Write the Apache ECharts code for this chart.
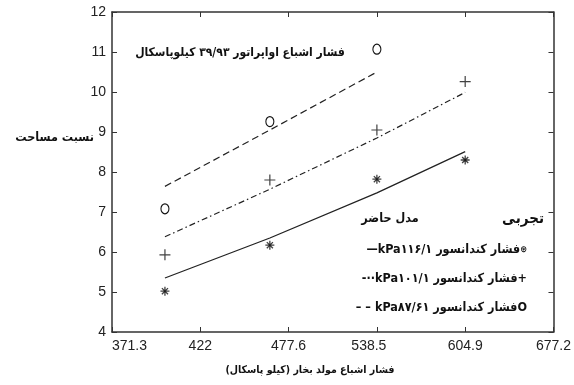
<!DOCTYPE html>
<html>
<head>
<meta charset="utf-8">
<script src="https://cdn.jsdelivr.net/npm/echarts@6/dist/echarts.min.js"></script>
<style>html,body{margin:0;padding:0;background:#fff;}#c{width:574px;height:385px;}</style>
</head>
<body>
<div id="c"></div>
<script>
// Tick labels of the (non-linear) pressure axis, equally spaced on the chart
const xTickLabels = ['371.3', '422', '477.6', '538.5', '604.9', '677.2'];
const xTickValues = [371.3, 422, 477.6, 538.5, 604.9, 677.2];
// generator saturation pressures (kPa) of the measurements
const pressures = [401.7, 465.8, 538.5, 604.9];
// experimental points
const exp116 = [5.02, 6.17, 7.82, 8.30];
const exp101 = [5.93, 7.80, 9.05, 10.26];
const exp8761 = [7.08, 9.26, 11.07];
// present model
const model116 = [5.35, 6.35, 7.48, 8.51];
const model101 = [6.38, 7.57, 8.85, 9.99];
const model8761 = [7.64, 9.05, 10.50];

function toAxis(p) {
  for (let i = 0; i < xTickValues.length - 1; i++) {
    if (p <= xTickValues[i + 1]) return i + (p - xTickValues[i]) / (xTickValues[i + 1] - xTickValues[i]);
  }
  return xTickValues.length - 1;
}
function pts(vals) { return vals.map((v, i) => [toAxis(pressures[i]), v]); }

const AX = '#333', INK = '#111';
const FA = '"DejaVu Sans Condensed", "DejaVu Sans", sans-serif';
const PLUS = 'path://M5,0L5,10M0,5L10,5';
const STAR = 'path://M5,0L5,10M0,5L10,5M1.6,1.6L8.4,8.4M8.4,1.6L1.6,8.4M4,4L6,4L6,6L4,6Z';

function axisBase(extra) {
  return Object.assign({
    axisLine: { show: true, onZero: false, lineStyle: { color: AX, width: 1.5 } },
    axisTick: { show: true, inside: true, length: 5, lineStyle: { color: AX, width: 1 } },
    splitLine: { show: false }
  }, extra);
}
function legendRow(sample, num, marker, markerFont) {
  const f = 'bold 12.5px ' + FA;
  return {
    text: '{l|' + sample + '}{k|kPa}{n|' + num + ' }{t|فشار کندانسور}{m|' + marker + '}',
    align: 'right', verticalAlign: 'middle', fill: INK,
    rich: { l: { font: f, fill: INK }, k: { font: f, fill: INK }, n: { font: f, fill: INK },
      t: { font: f, fill: INK }, m: { font: markerFont || f, fill: INK } }
  };
}

const chart = echarts.init(document.getElementById('c'), null, { renderer: 'canvas' });
chart.setOption({
  animation: false,
  backgroundColor: '#fff',
  grid: { left: 112, top: 12, right: 20, bottom: 53 },
  xAxis: [
    axisBase({ type: 'value', min: 0, max: 5, interval: 1, position: 'bottom',
      axisLabel: { color: '#222', fontFamily: 'Liberation Sans', fontSize: 14, margin: 7,
        showMinLabel: true, showMaxLabel: true, alignMinLabel: 'left',
        formatter: v => { const s = xTickLabels[Math.round(v)]; return Math.round(v) === 3 ? '{s|' + s + '}' : s; },
        rich: { s: { color: '#222', fontFamily: 'Liberation Sans', fontSize: 14, padding: [0, 16, 0, 0] } } } }),
    axisBase({ type: 'value', min: 0, max: 5, interval: 1, position: 'top', axisLabel: { show: false } })
  ],
  yAxis: [
    axisBase({ type: 'value', min: 4, max: 12, interval: 1, position: 'left',
      axisLabel: { color: '#222', fontFamily: 'Liberation Sans', fontSize: 14, margin: 6 } }),
    axisBase({ type: 'value', min: 4, max: 12, interval: 1, position: 'right', axisLabel: { show: false } })
  ],
  series: [
    { type: 'line', data: pts(model116), symbol: 'none', lineStyle: { color: '#222', width: 1.3, type: 'solid' } },
    { type: 'line', data: pts(model101), symbol: 'none', lineStyle: { color: '#222', width: 1.2, type: [6, 3, 1.5, 3] } },
    { type: 'line', data: pts(model8761), symbol: 'none', lineStyle: { color: '#222', width: 1.2, type: [7, 4] } },
    { type: 'scatter', data: pts(exp116), symbol: STAR, symbolSize: 9,
      itemStyle: { color: INK, borderColor: INK, borderWidth: 1.3 } },
    { type: 'scatter', data: pts(exp101), symbol: PLUS, symbolSize: 11,
      itemStyle: { color: 'transparent', borderColor: INK, borderWidth: 1.2 } },
    { type: 'scatter', data: pts(exp8761), symbol: 'circle', symbolSize: [8, 10],
      itemStyle: { color: '#fff', borderColor: INK, borderWidth: 1.2, opacity: 1 } }
  ],
  graphic: [
    { type: 'text', x: 240, y: 53, style: { text: 'فشار اشباع اواپراتور ۳۹/۹۳ کیلوپاسکال',
      font: 'bold 12px ' + FA, fill: INK, align: 'center', verticalAlign: 'middle' } },
    { type: 'text', x: 94, y: 138, style: { text: 'نسبت مساحت',
      font: 'bold 12.5px ' + FA, fill: INK, align: 'right', verticalAlign: 'middle' } },
    { type: 'text', x: 310, y: 370, style: { text: 'فشار اشباع مولد بخار (کیلو پاسکال)\u200F',
      font: 'bold 10.5px ' + FA, fill: INK, align: 'center', verticalAlign: 'middle' } },
    { type: 'text', x: 523, y: 219, style: { text: 'تجربی',
      font: 'bold 15px ' + FA, fill: INK, align: 'center', verticalAlign: 'middle' } },
    { type: 'text', x: 390, y: 219, style: { text: 'مدل حاضر',
      font: 'bold 12.5px ' + FA, fill: INK, align: 'center', verticalAlign: 'middle' } },
    { type: 'text', x: 527, y: 250, style: legendRow('—', '۱۱۶/۱', '⊛', 'bold 9px ' + FA) },
    { type: 'text', x: 527, y: 279, style: legendRow('-··', '۱۰۱/۱', '+') },
    { type: 'text', x: 527, y: 308, style: legendRow('– – ', '۸۷/۶۱', 'O') }
  ]
});
</script>
</body>
</html>
